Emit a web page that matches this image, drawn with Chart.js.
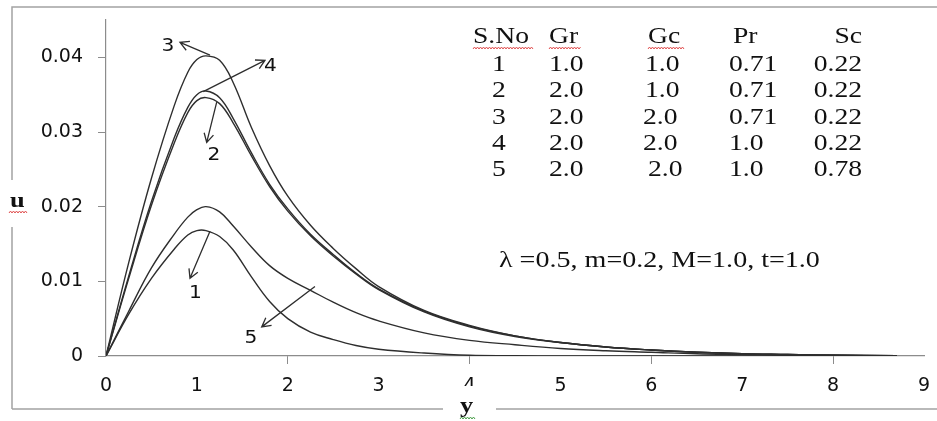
<!DOCTYPE html>
<html>
<head>
<meta charset="utf-8">
<script src="https://cdn.jsdelivr.net/npm/chart.js@4.4.0/dist/chart.umd.min.js"></script>
<style>
  body { margin: 0; background: #fff; }
  canvas { display: block; }
</style>
</head>
<body>
<canvas id="velocityChart" width="937" height="421"></canvas>
<script>
// distance y (x axis) and velocity u for the five cases
const yPos = [0, 0.25, 0.5, 0.75, 0.9, 1.0, 1.1, 1.25, 1.4, 1.6, 1.8, 2.0, 2.25, 2.5, 2.75, 3.0, 3.5, 4.0, 4.5, 5.0, 5.5, 6.0, 6.5, 7.0, 7.5, 8.0, 8.7];
const u1 = [0, 0.0056, 0.0104, 0.0143, 0.0162, 0.0168, 0.0168, 0.0160, 0.0142, 0.0106, 0.0073, 0.0050, 0.0032, 0.0022, 0.0014, 0.0009, 0.0004, 0.0001, 0.00005, 0, 0, 0, 0, 0, 0, 0, 0];
const u2 = [0, 0.0104, 0.0202, 0.0285, 0.0326, 0.0342, 0.0346, 0.0338, 0.0312, 0.0268, 0.0227, 0.0194, 0.0161, 0.0134, 0.0110, 0.0089, 0.0059, 0.0039, 0.0026, 0.0018, 0.0012, 0.0008, 0.0005, 0.0003, 0.0002, 0.0001, 0.00005];
const u3 = [0, 0.0125, 0.0238, 0.0335, 0.0380, 0.0397, 0.0402, 0.0396, 0.0366, 0.0306, 0.0255, 0.0214, 0.0175, 0.0144, 0.0117, 0.0093, 0.0061, 0.0041, 0.0027, 0.0018, 0.0012, 0.0008, 0.0005, 0.0003, 0.0002, 0.0001, 0.00005];
const u4 = [0, 0.0107, 0.0207, 0.0292, 0.0333, 0.0350, 0.0355, 0.0346, 0.0318, 0.0272, 0.0230, 0.0197, 0.0163, 0.0136, 0.0111, 0.0090, 0.0060, 0.0040, 0.0027, 0.0018, 0.0012, 0.0008, 0.0005, 0.0003, 0.0002, 0.0001, 0.00005];
const u5 = [0, 0.0060, 0.0118, 0.0163, 0.0186, 0.0196, 0.0200, 0.0193, 0.0174, 0.0146, 0.0121, 0.0104, 0.0088, 0.0072, 0.0058, 0.0047, 0.0031, 0.0021, 0.0015, 0.0010, 0.0007, 0.0005, 0.0003, 0.0002, 0.0001, 0.0001, 0];

// parameter table
const tableHead = ['S.No', 'Gr', 'Gc', 'Pr', 'Sc'];
const sNo = ['1', '2', '3', '4', '5'];
const grVals = ['1.0', '2.0', '2.0', '2.0', '2.0'];
const gcVals = ['1.0', '1.0', '2.0', '2.0', '2.0'];
const prVals = ['0.71', '0.71', '0.71', '1.0', '1.0'];
const scVals = ['0.22', '0.22', '0.22', '0.22', '0.78'];
const paramText = 'λ =0.5, m=0.2, M=1.0, t=1.0';

const lineColor = '#2e2e2e';
const axisColor = '#8c8c8c';

// curve labels with arrows, in data units (y, u)
const arrows = [
    { label: '3', from: [1.144, 0.0403], to: [0.814, 0.0420], at: [0.682, 0.0415] },
    { label: '4', from: [1.07, 0.0354], to: [1.749, 0.0396], at: [1.81, 0.0388] },
    { label: '2', from: [1.218, 0.0340], to: [1.108, 0.0286], at: [1.188, 0.0269] },
    { label: '1', from: [1.144, 0.0167], to: [0.924, 0.0104], at: [0.985, 0.0084] },
    { label: '5', from: [2.299, 0.0093], to: [1.713, 0.0039], at: [1.595, 0.0024] }
];

function drawText(ctx, str, x, y, font, align, baseline, sx) {
    ctx.save();
    ctx.translate(x, y);
    ctx.scale(sx, 1);
    ctx.font = font;
    ctx.textAlign = align;
    ctx.textBaseline = baseline;
    ctx.fillStyle = '#111';
    ctx.fillText(str, 0, 0);
    ctx.restore();
}

function wavy(ctx, x1, x2, y, color) {
    ctx.save();
    ctx.strokeStyle = color;
    ctx.lineWidth = 1;
    ctx.beginPath();
    let up = true;
    ctx.moveTo(x1, y);
    for (let px = x1 + 1.5; px <= x2; px += 1.5) {
        ctx.lineTo(px, up ? y - 2 : y);
        up = !up;
    }
    ctx.stroke();
    ctx.restore();
}

function drawArrow(ctx, x1, y1, x2, y2) {
    const ang = Math.atan2(y2 - y1, x2 - x1);
    const len = 10;
    ctx.beginPath();
    ctx.moveTo(x1, y1);
    ctx.lineTo(x2, y2);
    ctx.moveTo(x2 - len * Math.cos(ang - 0.5), y2 - len * Math.sin(ang - 0.5));
    ctx.lineTo(x2, y2);
    ctx.lineTo(x2 - len * Math.cos(ang + 0.5), y2 - len * Math.sin(ang + 0.5));
    ctx.stroke();
}

const annotationPlugin = {
    id: 'annotations',
    afterDraw(chart) {
        const ctx = chart.ctx;
        const xs = chart.scales.x, ys = chart.scales.y;

        ctx.save();
        ctx.strokeStyle = lineColor;
        ctx.lineWidth = 1.3;
        arrows.forEach(a => {
            drawArrow(ctx, xs.getPixelForValue(a.from[0]), ys.getPixelForValue(a.from[1]),
                      xs.getPixelForValue(a.to[0]), ys.getPixelForValue(a.to[1]));
            drawText(ctx, a.label, xs.getPixelForValue(a.at[0]), ys.getPixelForValue(a.at[1]),
                     '18px "DejaVu Sans"', 'center', 'middle', 1.12);
        });

        // outer frame
        ctx.strokeStyle = '#a3a3a3';
        ctx.lineWidth = 1.5;
        ctx.beginPath();
        ctx.moveTo(12, 409); ctx.lineTo(12, 7); ctx.lineTo(937, 7);
        ctx.moveTo(12, 409); ctx.lineTo(937, 409);
        ctx.stroke();

        // axis title boxes
        ctx.fillStyle = '#fff';
        ctx.fillRect(0, 180, 31, 47);
        ctx.fillRect(443, 386, 53, 35);
        drawText(ctx, 'u', 10, 207, 'bold 22px "Liberation Serif"', 'left', 'alphabetic', 1.2);
        drawText(ctx, 'y', 460, 412, 'bold 22px "Liberation Serif"', 'left', 'alphabetic', 1.2);
        wavy(ctx, 9, 27, 213, '#e05050');
        wavy(ctx, 460, 476, 419, '#4aa04a');

        // parameter table
        const serif = '23px "Liberation Serif"';
        const headX = [473, 549, 648, 733, 862];
        tableHead.forEach((h, i) => {
            drawText(ctx, h, headX[i], 43, serif, i === 4 ? 'right' : 'left', 'alphabetic', 1.2);
        });
        wavy(ctx, 473, 533, 49, '#e05050');
        wavy(ctx, 549, 581, 49, '#e05050');
        wavy(ctx, 648, 684, 49, '#e05050');
        const rowY = [71, 97, 124, 150, 176];
        const gcX = [645, 645, 643, 643, 648];
        rowY.forEach((ry, r) => {
            drawText(ctx, sNo[r], 499, ry, serif, 'center', 'alphabetic', 1.2);
            drawText(ctx, grVals[r], 549, ry, serif, 'left', 'alphabetic', 1.2);
            drawText(ctx, gcVals[r], gcX[r], ry, serif, 'left', 'alphabetic', 1.2);
            drawText(ctx, prVals[r], 729, ry, serif, 'left', 'alphabetic', 1.2);
            drawText(ctx, scVals[r], 862, ry, serif, 'right', 'alphabetic', 1.2);
        });
        drawText(ctx, paramText, 499, 267, serif, 'left', 'alphabetic', 1.22);
        ctx.restore();
    }
};

const seriesList = [u1, u2, u3, u4, u5];
const datasets = seriesList.map((vals, i) => ({
    label: 'Case ' + (i + 1),
    data: yPos.map((p, k) => ({ x: p, y: vals[k] })),
    borderColor: lineColor,
    borderWidth: 1.4,
    pointRadius: 0,
    fill: false,
    tension: 0.4
}));

const ctx = document.getElementById('velocityChart').getContext('2d');
const chart = new Chart(ctx, {
    type: 'line',
    data: { datasets: datasets },
    options: {
        responsive: false,
        animation: false,
        layout: { padding: { top: 20, right: 13, left: 0, bottom: 0 } },
        plugins: {
            legend: { display: false },
            tooltip: { enabled: false }
        },
        scales: {
            x: {
                type: 'linear',
                min: 0,
                max: 9,
                ticks: {
                    stepSize: 1,
                    color: '#111',
                    padding: 11,
                    font: { family: '"DejaVu Sans"', size: 19 }
                },
                grid: {
                    drawOnChartArea: false,
                    tickLength: 8,
                    tickColor: c => (c.tick && c.tick.value % 2 === 0 && c.tick.value > 0) ? axisColor : 'rgba(0,0,0,0)'
                },
                border: { color: axisColor, width: 1.2 },
                afterFit: s => { s.height = 65; s.paddingLeft = 0; s.paddingRight = 0; }
            },
            y: {
                min: 0,
                max: 0.045,
                ticks: {
                    stepSize: 0.01,
                    color: '#111',
                    padding: 15,
                    font: { family: '"DejaVu Sans"', size: 19 },
                    callback: v => v === 0 ? '0' : v.toFixed(2)
                },
                afterBuildTicks: s => { s.ticks = s.ticks.filter(t => t.value < 0.0401); },
                grid: {
                    drawOnChartArea: false,
                    tickLength: 8,
                    tickColor: axisColor
                },
                border: { color: axisColor, width: 1.2 },
                afterFit: s => { s.width = 106; s.paddingTop = 0; s.paddingBottom = 0; }
            }
        }
    },
    plugins: [annotationPlugin]
});
</script>
</body>
</html>
